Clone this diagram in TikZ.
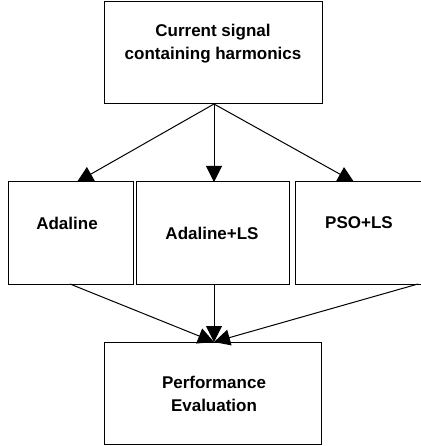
\documentclass[tikz,border=0pt]{standalone}
\usepackage{fontspec}
\setmainfont{Liberation Sans}
\usetikzlibrary{arrows.meta}
\begin{document}
\begin{tikzpicture}[x=1pt,y=-1pt,
  box/.style={draw=black,line width=1pt},
  lbl/.style={font=\fontsize{17}{23}\selectfont\bfseries,align=center,inner sep=0pt},
  conn/.style={line width=1pt,-{Triangle[length=16pt,width=16pt]}},
  plain/.style={line width=1pt}]
\useasboundingbox (0,0) rectangle (420,446);
% boxes
\draw[box] (104,2) rectangle (322,104);
\draw[box] (8,182) rectangle (133,284);
\draw[box] (136,182) rectangle (289,284);
\draw[box] (295,182) rectangle (424,284);
\draw[box] (104,342) rectangle (321,444);
% labels
\node[lbl] (top) at (213,44) {Current signal\\containing harmonics};
\node[lbl] (ada) at (67,223) {Adaline};
\node[lbl] (adals) at (212,233) {Adaline+LS};
\node[lbl] (pso) at (359,223) {PSO+LS};
\node[lbl] (perf) at (214,394) {Performance\\Evaluation};
% anchor coordinates
\coordinate (topb) at (214,104);
\coordinate (lt) at (77,182);
\coordinate (mt) at (214,182);
\coordinate (rt) at (354,182);
\coordinate (lb) at (70,284);
\coordinate (mb) at (214,284);
\coordinate (rb) at (418,284);
\coordinate (pt) at (214,342);
% connectors
\draw[conn] (topb) -- (lt);
\draw[conn] (topb) -- (mt);
\draw[conn] (topb) -- (rt);
\draw[conn] (lb) -- (pt);
\draw[conn] (mb) -- (pt);
\draw[conn] (rb) -- (pt);
\end{tikzpicture}
\end{document}
